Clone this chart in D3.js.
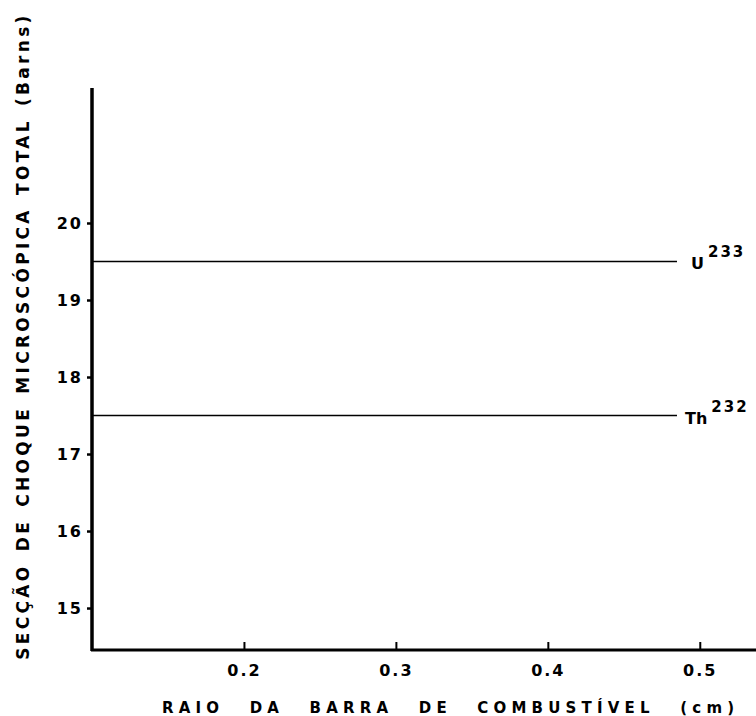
<!DOCTYPE html>
<html>
<head>
<meta charset="utf-8">
<script src="https://cdn.jsdelivr.net/npm/d3@7"></script>
<style>
  body { margin: 0; background: #fff; }
  svg { display: block; }
  text { font-family: "DejaVu Sans", sans-serif; font-weight: bold; fill: #000; }
</style>
</head>
<body>
<svg id="graph" width="756" height="716"></svg>
<script>
// fuel rod radius (cm)
const radius = [0.1, 0.2, 0.3, 0.4, 0.485]
// total microscopic cross section (barns)
const u233 = [19.5, 19.5, 19.5, 19.5, 19.5]
const th232 = [17.5, 17.5, 17.5, 17.5, 17.5]

const series = [
  { name: "U", mass: "233", values: u233, dx: 14 },
  { name: "Th", mass: "232", values: th232, dx: 8 },
]

const x_ticks = [0.2, 0.3, 0.4, 0.5]
const y_ticks = [15, 16, 17, 18, 19, 20]

const svg = d3.select("#graph")

const x = d3.scaleLinear().domain([0.1, 0.537]).range([92, 756])
const y = d3.scaleLinear().domain([14.455, 21.753]).range([650, 88])

// data lines
const line = d3.line()
  .x((d, i) => x(radius[i]))
  .y(d => y(d))

series.forEach(s => {
  svg.append("path")
    .attr("d", line(s.values))
    .attr("fill", "none")
    .attr("stroke", "#000")
    .attr("stroke-width", 1.6)

  const last = s.values[s.values.length - 1]
  const label = svg.append("text")
    .attr("x", x(radius[radius.length - 1]) + s.dx)
    .attr("y", y(last) + 8)
    .attr("font-size", 16)
  label.append("tspan").text(s.name)
  label.append("tspan")
    .attr("dy", -12)
    .attr("dx", 4)
    .attr("font-size", 15)
    .attr("letter-spacing", 2)
    .text(s.mass)
})

// y axis
const y_axis = svg.append("g")
  .attr("transform", `translate(${x(0.1)},0)`)
  .call(d3.axisLeft(y).tickValues(y_ticks).tickSize(5).tickPadding(4).tickFormat(d3.format("d")))
y_axis.select(".domain").remove()
y_axis.selectAll("line").attr("stroke-width", 2.5)
y_axis.selectAll("text")
  .attr("font-size", 16)
  .attr("font-family", "DejaVu Sans")
  .attr("letter-spacing", 2)

svg.append("line")
  .attr("x1", x(0.1)).attr("x2", x(0.1))
  .attr("y1", y(21.753)).attr("y2", y(14.455) + 1)
  .attr("stroke", "#000")
  .attr("stroke-width", 3.5)

// x axis
const x_axis = svg.append("g")
  .attr("transform", `translate(0,${y(14.455)})`)
  .call(d3.axisTop(x).tickValues(x_ticks).tickSize(8).tickFormat(d3.format(".1f")))
x_axis.select(".domain").remove()
x_axis.selectAll("line").attr("stroke-width", 2)
x_axis.selectAll("text")
  .attr("font-size", 16)
  .attr("font-family", "DejaVu Sans")
  .attr("letter-spacing", 2)
  .attr("dy", 0)
  .attr("y", 26)

svg.append("line")
  .attr("x1", x(0.1) - 1).attr("x2", x(0.537))
  .attr("y1", y(14.455)).attr("y2", y(14.455))
  .attr("stroke", "#000")
  .attr("stroke-width", 3)

// axis titles
svg.append("text")
  .attr("x", 162)
  .attr("y", 713)
  .attr("font-size", 15)
  .attr("letter-spacing", 5.2)
  .attr("word-spacing", 15)
  .text("RAIO DA BARRA DE COMBUSTÍVEL (cm)")

svg.append("text")
  .attr("transform", "translate(29,336) rotate(-90)")
  .attr("text-anchor", "middle")
  .attr("font-size", 17)
  .attr("letter-spacing", 3.3)
  .attr("word-spacing", 3)
  .text("SECÇÃO DE CHOQUE MICROSCÓPICA TOTAL (Barns)")
</script>
</body>
</html>
